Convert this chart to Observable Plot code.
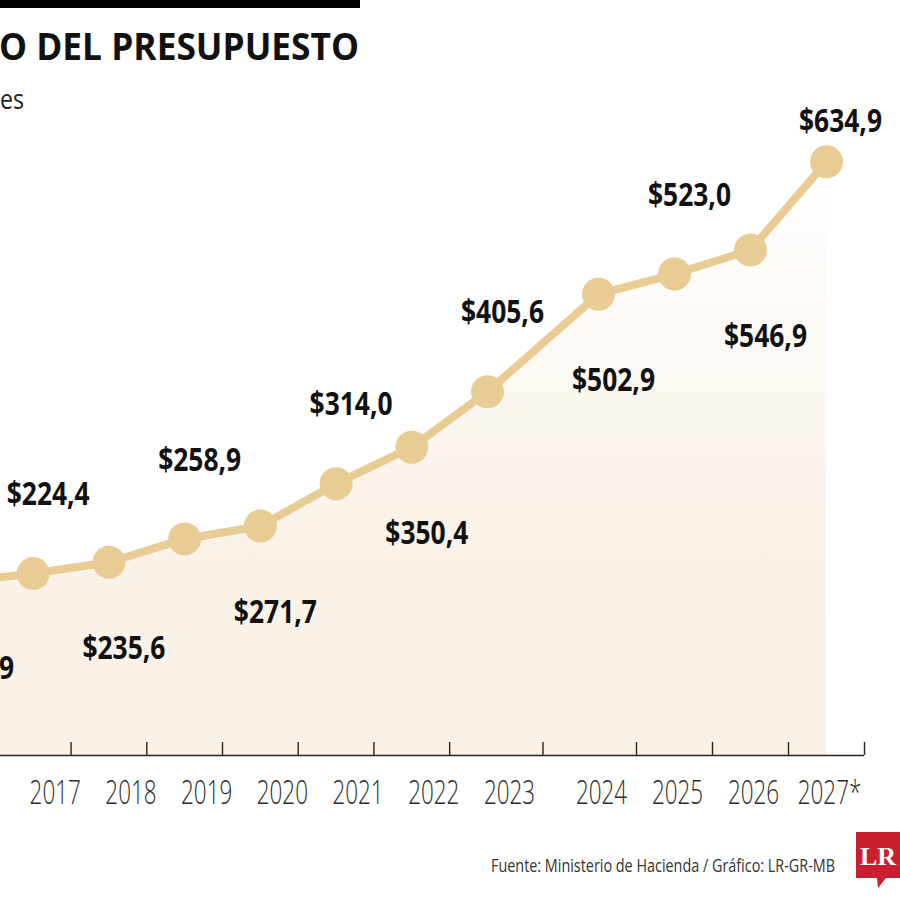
<!DOCTYPE html>
<html>
<head>
<meta charset="utf-8">
<script src="https://cdn.jsdelivr.net/npm/d3@7"></script>
<script src="https://cdn.jsdelivr.net/npm/@observablehq/plot@0.6"></script>
<style>
  html, body { margin: 0; padding: 0; background: #fff; }
  #wrap { position: relative; width: 900px; height: 900px; overflow: hidden; font-family: "Open Sans", sans-serif; }
  #bar { position: absolute; left: 0; top: 0; width: 360px; height: 8px; background: #000; }
  #title { position: absolute; left: -1px; top: 20px; font-family: "Open Sans", sans-serif;
           font-weight: 700; font-size: 37px; color: #111; white-space: nowrap; transform-origin: 0 0; }
  #subtitle { position: absolute; left: 0; top: 80px; font-size: 27px; color: #222; white-space: nowrap; transform-origin: 0 0; }
  #chart { position: absolute; left: 0; top: 80px; }
  #source { position: absolute; left: 491px; top: 853px; font-size: 18px; color: #333; white-space: nowrap; transform-origin: 0 0; }
  #logo { position: absolute; left: 856px; top: 830px; }
</style>
</head>
<body>
<div id="wrap">
  <div id="bar"></div>
  <div id="title">O DEL PRESUPUESTO</div>
  <div id="subtitle">es</div>
  <div id="chart"></div>
  <div id="source">Fuente: Ministerio de Hacienda / Gráfico: LR-GR-MB</div>
  <svg id="logo" width="44" height="60" viewBox="0 0 44 60">
    <path d="M0,2 H44 V48 H30 L22,58 L21,48 H0 Z" fill="#c8202e"/>
    <text x="22" y="35" text-anchor="middle" font-family="'Liberation Serif', 'DejaVu Serif', serif"
          font-weight="700" font-size="26" fill="#fff">LR</text>
  </svg>
</div>
<script>
// ---- data ----
const years = [2016, 2017, 2018, 2019, 2020, 2021, 2022, 2023, 2024, 2025, 2026, 2027];
const budget = [215.9, 224.4, 235.6, 258.9, 271.7, 314.0, 350.4, 405.6, 502.9, 523.0, 546.9, 634.9];
const labelSide = ["below", "above", "below", "above", "below", "above", "below", "above", "below", "above", "below", "top"];
const axisYears = [2017, 2018, 2019, 2020, 2021, 2022, 2023, 2024, 2025, 2026, 2027];
const axisLabels = ["2017", "2018", "2019", "2020", "2021", "2022", "2023", "2024", "2025", "2026", "2027*"];

const fmt = v => "$" + v.toFixed(1).replace(".", ",");
const data = years.map((year, i) => ({ year, value: budget[i], label: fmt(budget[i]), side: labelSide[i] }));
const axisData = axisYears.map((year, i) => ({ year, label: axisLabels[i] }));
const tickVals = years.map(y => y + 0.5);
const gapAfter = 2023; // the chart leaves a wider gap between 2023 and 2024

const yMin = 43, yMax = 700;
const W = 900, H = 760, mTop = 16, mBottom = 85;
const lineColor = "#e9cc93";

const gradientDefs = () => {
  const defs = d3.create("svg:defs");
  const g = defs.append("linearGradient").attr("id", "areaGrad")
    .attr("x1", 0).attr("y1", 0).attr("x2", 0).attr("y2", 1);
  g.append("stop").attr("offset", "0%").attr("stop-color", "#ffffff");
  g.append("stop").attr("offset", "55%").attr("stop-color", "#faf3ea");
  g.append("stop").attr("offset", "100%").attr("stop-color", "#f9f1e6");
  return defs.node();
};

const labelFont = { fontSize: 33, fontWeight: 700, fill: "#111", fontFamily: "'Open Sans', sans-serif" };
const yearFont = { fontSize: 33, fontWeight: 300, fill: "#2b2b2b", fontFamily: "'Open Sans', sans-serif", className: "ylabel" };

const chart = Plot.plot({
  width: W, height: H,
  marginLeft: 0, marginRight: 0, marginTop: mTop, marginBottom: mBottom,
  style: { background: "transparent", overflow: "visible" },
  x: { type: "linear", domain: [2016, 2023, 2024, 2027], range: [-43, 487, 598, 826], axis: null },
  y: { domain: [yMin, yMax], axis: null },
  marks: [
    gradientDefs,
    Plot.areaY(data, { x: "year", y: "value", fill: "url(#areaGrad)", clip: true }),
    Plot.ruleY([yMin], { x1: years[0] - 1, x2: tickVals[tickVals.length - 1], stroke: "#2a2522", strokeWidth: 1.4 }),
    Plot.ruleX(tickVals, { x: d => d, insetTop: (H - mTop - mBottom) - 13, stroke: "#2a2522", strokeWidth: 1.4 }),
    Plot.line(data, { x: "year", y: "value", stroke: lineColor, strokeWidth: 8 }),
    Plot.dot(data, { x: "year", y: "value", r: 16.5, fill: lineColor }),
    Plot.text(data.filter(d => d.side === "above"), { x: "year", y: "value", text: "label", dx: 15, dy: -79, className: "vlabel", ...labelFont }),
    Plot.text(data.filter(d => d.side === "below"), { x: "year", y: "value", text: "label", dx: 15, dy: 86, className: "vlabel", ...labelFont }),
    Plot.text(data.filter(d => d.side === "top"), { x: "year", y: "value", text: "label", dx: 14, dy: -40, className: "vlabel", ...labelFont }),
    Plot.text(axisData.filter(d => d.year <= gapAfter), { x: "year", text: "label", frameAnchor: "bottom", dy: 48, dx: 22, ...yearFont }),
    Plot.text(axisData.filter(d => d.year > gapAfter), { x: "year", text: "label", frameAnchor: "bottom", dy: 48, dx: 3, ...yearFont })
  ]
});
document.getElementById("chart").appendChild(chart);

// condensed look: squeeze glyphs horizontally (no condensed font installed)
function squeeze(sel, k) {
  chart.querySelectorAll(sel).forEach(t => {
    const w = t.getComputedTextLength();
    t.setAttribute("textLength", (w * k).toFixed(1));
    t.setAttribute("lengthAdjust", "spacingAndGlyphs");
  });
}
squeeze(".vlabel text", 0.8);
squeeze(".ylabel text", 0.68);

function fitWidth(id, target) {
  const el = document.getElementById(id);
  const w = el.getBoundingClientRect().width;
  el.style.transform = `scaleX(${target / w})`;
}
fitWidth("title", 360);
fitWidth("subtitle", 24);
fitWidth("source", 344);
</script>
</body>
</html>
